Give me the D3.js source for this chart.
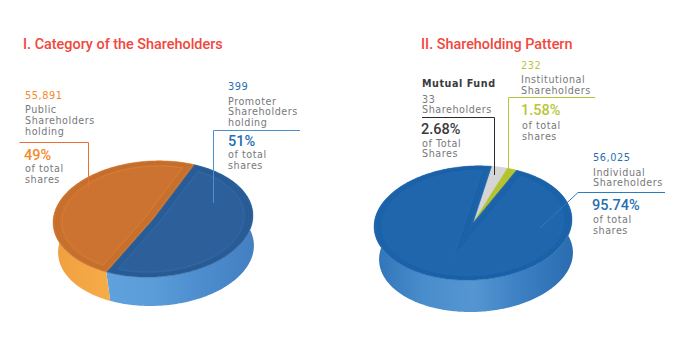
<!DOCTYPE html>
<html>
<head>
<meta charset="utf-8">
<script src="https://cdn.jsdelivr.net/npm/d3@7/dist/d3.min.js"></script>
<style>
  html, body { margin: 0; padding: 0; background: #fff; }
  text { font-family: "DejaVu Sans", sans-serif; letter-spacing: 0.55px; }
  text.title, text.pct { font-family: Roboto, sans-serif; letter-spacing: 0; }
</style>
</head>
<body>
<div id="chart"></div>
<script>
// data
const categoryNames = ["Promoter", "Public"];
const categoryShares = [51, 49];
const categoryHolders = [399, 55891];

const patternNames = ["Mutual Fund", "Institutional", "Individual"];
const patternShares = [2.68, 1.58, 95.74];
const patternHolders = [33, 232, 56025];

const titles = ["I. Category of the Shareholders", "II. Shareholding Pattern"];

const width = 688, height = 360;
const svg = d3.select("#chart").append("svg")
    .attr("width", width)
    .attr("height", height)
    .style("display", "block");
const defs = svg.append("defs");

function gradient(id, stops) {
    const g = defs.append("linearGradient").attr("id", id);
    stops.forEach((s, i) => g.append("stop")
        .attr("offset", i / (stops.length - 1))
        .attr("stop-color", s));
    return `url(#${id})`;
}

const sideOrange = gradient("sideOrange", ["#f09f3f", "#f8b04a", "#ffc04f"]);
const sideBlue = gradient("sideBlue", ["#5fa2dd", "#5a9bd8", "#4c8ccd", "#447fc2"]);
const sideBlue2 = gradient("sideBlue2", ["#2f74b8", "#4a8dcc", "#5595d2", "#3b7fc2", "#2a6cb0"]);

// a tilted flat disc: angle/radius goes through project() to screen x,y
function drawPie(opt) {
    const pie = d3.pie().sort(null)
        .startAngle(opt.start)
        .endAngle(opt.start + 2 * Math.PI);
    const slices = pie(opt.values);
    const cosT = Math.cos(opt.tilt), sinT = Math.sin(opt.tilt);

    function project(a, r, dx, dy) {
        const x = opt.rx * r * Math.sin(a), y = -opt.ry * r * Math.cos(a);
        return [opt.cx + x * cosT + y * sinT + (dx || 0), opt.cy - x * sinT + y * cosT + (dy || 0)];
    }
    const line = d3.line();

    function arcPoints(a0, a1, r, dx, dy) {
        const n = Math.ceil(Math.abs(a1 - a0) / 0.02);
        return d3.range(n + 1).map(i => project(a0 + (a1 - a0) * i / n, r, dx, dy));
    }

    function wedge(a0, a1, inset, r) {
        // wedge with sides moved inward by inset, apex slides along the bisector
        const half = (a1 - a0) / 2;
        const apex = project(a0 + half, inset ? inset / Math.sin(half) : 0);
        const da = inset ? Math.asin(inset / r) : 0;
        return line([apex].concat(arcPoints(a0 + da, a1 - da, r))) + "Z";
    }

    const g = svg.append("g");

    // side wall first, the top hides whatever is behind it
    g.selectAll("path.side").data(slices).join("path")
        .attr("class", "side")
        .attr("fill", (d, i) => opt.side[i])
        .attr("d", d => line(arcPoints(d.startAngle, d.endAngle, 1, 0, 0)
            .concat(arcPoints(d.endAngle, d.startAngle, opt.shrink, opt.shift, opt.depth))) + "Z");

    g.selectAll("path.top").data(slices).join("path")
        .attr("class", "top")
        .attr("fill", (d, i) => opt.top[i])
        .attr("stroke", (d, i) => opt.top[i])
        .attr("stroke-width", 0.5)
        .attr("d", d => wedge(d.startAngle, d.endAngle, 0, 1));

    // embossed bands inside each big slice
    const big = slices.filter(d => d.endAngle - d.startAngle > 1);
    [[0.035, 0.97, 0.05], [0.06, 0.945, 0.05]].forEach(b => {
        g.selectAll(null).data(big).join("path")
            .attr("fill", "none")
            .attr("stroke", "#000")
            .attr("stroke-opacity", b[2])
            .attr("stroke-width", 1)
            .attr("d", d => wedge(d.startAngle, d.endAngle, b[0], b[1]));
    });
    g.selectAll(null).data(big).join("path")
        .attr("fill", (d) => opt.inner[d.index])
        .attr("stroke", d => opt.ring[d.index])
        .attr("stroke-width", 0.6)
        .attr("d", d => wedge(d.startAngle, d.endAngle, 0.085, 0.91));
}

drawPie({
    values: categoryShares, cx: 153, cy: 219, rx: 100, ry: 58, depth: 30, shift: 3, shrink: 0.98,
    start: 26 * Math.PI / 180, tilt: 3 * Math.PI / 180,
    top: ["#2a5e99", "#cb722f"],
    inner: ["#2d609b", "#cc7331"],
    ring: ["#3a70ad", "#dc8636"],
    side: [sideBlue, sideOrange]
});

drawPie({
    values: patternShares, cx: 473, cy: 223, rx: 99, ry: 57, depth: 33, shift: 3, shrink: 0.98,
    start: 12.5 * Math.PI / 180, tilt: 3 * Math.PI / 180,
    top: ["#d5d5d5", "#b5c32f", "#1c64ac"],
    inner: ["#d5d5d5", "#b5c32f", "#1f66ad"],
    ring: ["#d5d5d5", "#b5c32f", "#256cb3"],
    side: ["#d5d5d5", "#b5c32f", sideBlue2]
});

const red = "#f1473c", orange = "#f58a2b", blue = "#1f6fb5", green = "#b9c63a",
    dark = "#3a3a3c", grey = "#77787b";
const small = 9.6, num = 9.8;

function text(x, y, str, size, color, weight) {
    svg.append("text")
        .attr("x", x).attr("y", y)
        .attr("font-size", size)
        .attr("font-weight", weight || 400)
        .attr("fill", color)
        .text(str);
}

function pctText(x, y, value, color) {
    svg.append("text")
        .attr("class", "pct")
        .attr("x", x).attr("y", y)
        .attr("font-size", 14.5)
        .attr("font-weight", 500)
        .attr("fill", color)
        .text(value + "%");
}

function leader(points, color) {
    svg.append("path")
        .attr("fill", "none")
        .attr("stroke", color)
        .attr("stroke-width", 1)
        .attr("d", d3.line()(points));
}

const fmt = d3.format(",");

svg.selectAll("text.title").data(titles).join("text")
    .attr("class", "title")
    .attr("x", (d, i) => i ? 421 : 23)
    .attr("y", 48.5)
    .attr("font-size", 14.4)
    .attr("font-weight", 500)
    .attr("fill", red)
    .text(d => d);

// left pie labels
leader([[19.5, 142.5], [88.5, 142.5], [88.5, 188]], "#f26a35");
text(25, 99, fmt(categoryHolders[1]), num, orange);
text(25, 113, categoryNames[1], small, grey);
text(25, 124, "Shareholders", small, grey);
text(25, 134.5, "holding", small, grey);
pctText(24, 159.5, categoryShares[1], orange);
text(25, 172, "of total", small, grey);
text(25, 182.5, "shares", small, grey);

leader([[300, 130.5], [213.5, 130.5], [213.5, 203]], "#4a90cf");
text(228, 90, fmt(categoryHolders[0]), num, blue);
text(228, 104.5, categoryNames[0], small, grey);
text(228, 115, "Shareholders", small, grey);
text(228, 125.5, "holding", small, grey);
pctText(228, 145.5, categoryShares[0], blue);
text(228, 158, "of total", small, grey);
text(228, 168.5, "shares", small, grey);

// right pie labels
leader([[422, 117.5], [494.5, 117.5], [494.5, 175]], "#2b2b2b");
text(422, 87, patternNames[0], small, dark, 700);
text(422, 102.5, fmt(patternHolders[0]), small, grey);
text(422, 113, "Shareholders", small, grey);
pctText(421, 134, patternShares[0], dark);
text(422, 146.5, "of Total", small, grey);
text(422, 157, "Shares", small, grey);

leader([[595, 97.5], [508.5, 97.5], [508.5, 170]], green);
text(521, 69, fmt(patternHolders[1]), num, green);
text(521, 83, patternNames[1], small, grey);
text(521, 93.5, "Shareholders", small, grey);
pctText(521, 115, patternShares[1], green);
text(522, 129, "of total", small, grey);
text(522, 139.5, "shares", small, grey);

leader([[665, 192.5], [578, 192.5], [540, 228]], "#2a7cc0");
text(593, 161, fmt(patternHolders[2]), num, blue);
text(593, 175.5, patternNames[2], small, grey);
text(593, 186, "Shareholders", small, grey);
pctText(592, 210, patternShares[2], blue);
text(593, 223, "of total", small, grey);
text(593, 233.5, "shares", small, grey);
</script>
</body>
</html>
